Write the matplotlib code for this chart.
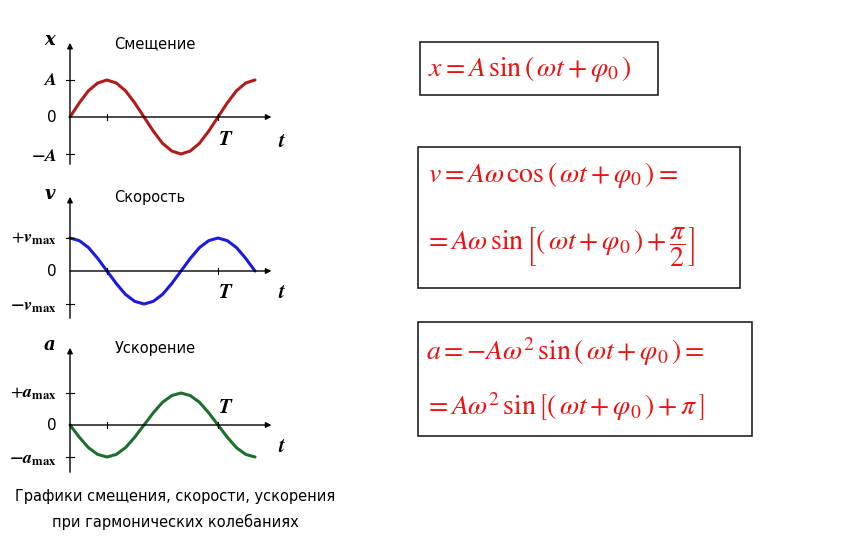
import matplotlib
matplotlib.use("Agg")
import matplotlib.pyplot as plt
from matplotlib.patches import Rectangle

plt.rcParams['mathtext.fontset'] = 'stix'

t = [i / 16 for i in range(21)]
x_vals = [0, 0.38, 0.71, 0.92, 1.0, 0.92, 0.71, 0.38, 0, -0.38, -0.71, -0.92, -1.0, -0.92, -0.71, -0.38, 0, 0.38, 0.71, 0.92, 1.0]
v_vals = [1.0, 0.92, 0.71, 0.38, 0, -0.38, -0.71, -0.92, -1.0, -0.92, -0.71, -0.38, 0, 0.38, 0.71, 0.92, 1.0, 0.92, 0.71, 0.38, 0]
a_vals = [0, -0.38, -0.71, -0.92, -1.0, -0.92, -0.71, -0.38, 0, 0.38, 0.71, 0.92, 1.0, 0.92, 0.71, 0.38, 0, -0.38, -0.71, -0.92, -1.0]

titles = ["Смещение", "Скорость", "Ускорение"]
ylabels = ["x", "v", "a"]
top_labels = [r"$\boldsymbol{A}$", r"$+\boldsymbol{v}_{\mathbf{max}}$", r"$+\boldsymbol{a}_{\mathbf{max}}$"]
bot_labels = [r"$\mathbf{-}\boldsymbol{A}$", r"$\mathbf{-}\boldsymbol{v}_{\mathbf{max}}$", r"$\mathbf{-}\boldsymbol{a}_{\mathbf{max}}$"]
colors = ["#b01c1c", "#1a1ae0", "#1e6e2e"]
series = [x_vals, v_vals, a_vals]
zero_px = [117, 271, 425]
amp_px = [37, 33, 32]
T_pos = [(1.05, -0.6), (1.05, -0.65), (1.05, 0.55)]

W, H = 858, 552
fig = plt.figure(figsize=(W / 100, H / 100), dpi=100)
px_per = 148.0
x0px = 70

for i in range(3):
    left_px, right_px = 20, 300
    top_px, bot_px = zero_px[i] - 80, zero_px[i] + 55
    ax = fig.add_axes([left_px / W, 1 - bot_px / H, (right_px - left_px) / W, (bot_px - top_px) / H])
    ax.set_xlim((left_px - x0px) / px_per, (right_px - x0px) / px_per)
    ax.set_ylim(-55 / amp_px[i], 80 / amp_px[i])
    ax.axis('off')
    c = colors[i]
    ax.plot(t, series[i], color=c, lw=2.2, solid_capstyle='round', solid_joinstyle='round')
    ytop = (zero_px[i] - (40 + 154 * i if i < 2 else 345)) / amp_px[i]
    ybot = -50 / amp_px[i]
    ax.annotate("", xy=(0, ytop), xytext=(0, ybot),
                arrowprops=dict(arrowstyle='-|>', color='black', lw=1, mutation_scale=8))
    tend = 1.38
    ax.annotate("", xy=(tend, 0), xytext=(-0.02, 0),
                arrowprops=dict(arrowstyle='-|>', color='black', lw=1, mutation_scale=8))
    for tk in [0.25, 1.0]:
        ax.plot([tk, tk], [-0.08, 0.08], color='black', lw=0.8)
    ax.plot([-0.03, 0.03], [1, 1], color='black', lw=0.8)
    ax.plot([-0.03, 0.03], [-1, -1], color='black', lw=0.8)
    ax.text(-0.1, ytop, ylabels[i], ha='right', va='center', fontsize=13,
            family='DejaVu Serif', style='italic', weight='bold')
    ax.text(0.3, ytop - 0.1, titles[i], ha='left', va='center', fontsize=10.5, family='DejaVu Sans')
    ax.text(-0.09, 1, top_labels[i], ha='right', va='center', fontsize=13)
    ax.text(-0.09, 0, "0", ha='right', va='center', fontsize=11)
    ax.text(-0.09, -1.05, bot_labels[i], ha='right', va='center', fontsize=13)
    ax.text(T_pos[i][0], T_pos[i][1], r"$\boldsymbol{T}$", ha='center', va='center', fontsize=15)
    ax.text(1.43, -0.65, r"$\boldsymbol{t}$", ha='center', va='center', fontsize=15)

fig.text(175 / W, 1 - 497 / H, "Графики смещения, скорости, ускорения", ha='center', va='center', fontsize=10.5)
fig.text(175 / W, 1 - 522 / H, "при гармонических колебаниях", ha='center', va='center', fontsize=10.5)

ov = fig.add_axes([0, 0, 1, 1])
ov.set_xlim(0, W); ov.set_ylim(H, 0); ov.axis('off')
red = '#ee1111'
boxes = [(420, 42, 238, 53), (418, 147, 322, 141), (418, 322, 334, 114)]
for (bx, by, bw, bh) in boxes:
    ov.add_patch(Rectangle((bx, by), bw, bh, fill=False, ec='#222222', lw=1.2))
fs = 20
ov.text(428, 69, r"$x = A\,\sin\left(\,\omega t + \varphi_0\,\right)$", color=red, fontsize=fs, va='center')
ov.text(428, 175, r"$v = A\omega\,\cos\left(\,\omega t + \varphi_0\,\right) =$", color=red, fontsize=fs, va='center')
ov.text(424, 247, r"$= A\omega\,\sin\left[\left(\,\omega t + \varphi_0\,\right) + \dfrac{\pi}{2}\right]$", color=red, fontsize=fs, va='center')
ov.text(426, 352, r"$a = -A\omega^2\,\sin\left(\,\omega t + \varphi_0\,\right) =$", color=red, fontsize=fs, va='center')
ov.text(424, 407, r"$= A\omega^2\,\sin\left[\left(\,\omega t + \varphi_0\,\right) + \pi\,\right]$", color=red, fontsize=fs, va='center')

fig.savefig("out.png", dpi=100)
